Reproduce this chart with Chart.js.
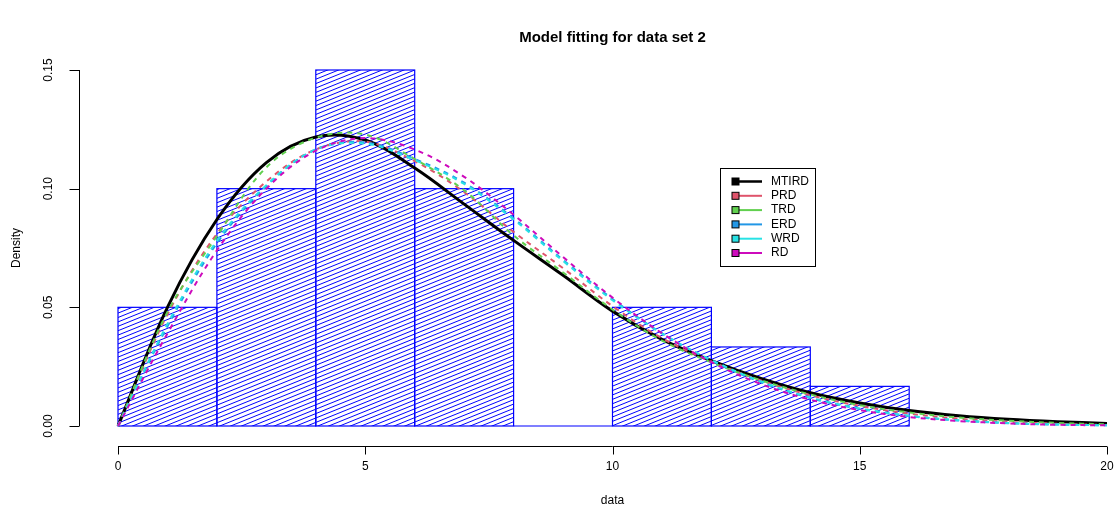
<!DOCTYPE html>
<html>
<head>
<meta charset="utf-8">
<script src="https://cdn.jsdelivr.net/npm/chart.js@4.4.1/dist/chart.umd.min.js"></script>
<style>
html,body{margin:0;padding:0;background:#ffffff;}
#wrap{width:1118px;height:510px;position:relative;}
</style>
</head>
<body>
<div id="wrap"><canvas id="c" width="1118" height="510"></canvas></div>
<script>
// ---------- data ----------
const xValues = [0,1,2,3,4,5,6,7,8,9,10,11,12,13,14,15,16,17,18,19,20];
const binCenters = [1,3,5,7,9,11,13,15];
const binDensity = [0.05,0.10,0.15,0.10,0.00,0.05,0.0333,0.0167];
const mtird = [0,0.050,0.087,0.1110,0.1218,0.1205,0.1087,0.0935,0.0782,0.0635,0.0484,0.0365,0.0275,0.0200,0.0140,0.0097,0.0065,0.0043,0.0028,0.0018,0.0011];
const prd   = [0,0.047,0.081,0.103,0.1165,0.1198,0.1116,0.0985,0.0818,0.0665,0.0505,0.0370,0.0272,0.0192,0.0130,0.0085,0.0052,0.0031,0.0017,0.0009,0.0004];
const trd   = [0,0.048,0.080,0.109,0.1215,0.1228,0.1125,0.0993,0.0803,0.0647,0.0491,0.0360,0.0268,0.0193,0.0133,0.0088,0.0057,0.0036,0.0022,0.0013,0.0007];
const erd   = [0,0.042,0.077,0.101,0.1165,0.1195,0.1125,0.1025,0.0875,0.0700,0.0535,0.0390,0.0275,0.0185,0.0118,0.0072,0.0042,0.0023,0.0012,0.0006,0.0003];
const wrd   = [0,0.043,0.078,0.1015,0.1165,0.1190,0.1120,0.1020,0.0870,0.0695,0.0530,0.0390,0.0278,0.0188,0.0120,0.0074,0.0043,0.0024,0.0013,0.0006,0.0003];
const rd    = [0,0.039,0.074,0.100,0.1160,0.1213,0.1165,0.1050,0.0890,0.0712,0.0541,0.0391,0.0269,0.0177,0.0111,0.0067,0.0038,0.0021,0.0011,0.0005,0.0003];
const seriesNames  = ['MTIRD','PRD','TRD','ERD','WRD','RD'];
const seriesColors = ['#000000','#DF536B','#61D04F','#2297E6','#28E2E5','#CD0BBC'];
const seriesValues = [mtird, prd, trd, erd, wrd, rd];
const xTicks = [0,5,10,15,20];
const xTickLabels = ['0','5','10','15','20'];
const yTicks = [0,0.05,0.10,0.15];
const yTickLabels = ['0.00','0.05','0.10','0.15'];
const titleText = 'Model fitting for data set 2';
const xTitle = 'data';
const yTitle = 'Density';

// ---------- styling ----------
const FONT = '"Liberation Sans", Arial, Helvetica, sans-serif';
const HIST_BLUE = '#0000FF';

const histData = binCenters.map((c,i)=>({x:c, y:binDensity[i]}));

const datasets = [{
  type:'bar', label:'hist', data:histData,
  backgroundColor:'rgba(0,0,0,0)', borderWidth:0,
  barPercentage:1, categoryPercentage:1, order:10
}];
seriesValues.forEach((vals,i)=>{
  datasets.push({
    type:'line', label:seriesNames[i],
    data:xValues.map((x,j)=>({x:x, y:vals[j]})),
    borderColor:seriesColors[i],
    borderWidth: i===0 ? 3 : 2,
    borderDash: i===0 ? [] : [5,5],
    pointRadius:0, tension:0.35, fill:false,
    clip:false, order: 6 - i
  });
});

const histPlugin = {
  id:'hatchHist',
  afterDatasetDraw(chart, args){
    if (args.index !== 0) return;
    const ctx = chart.ctx;
    const meta = chart.getDatasetMeta(0);
    const t = Math.tan(22*Math.PI/180);
    const s = 4.4;
    meta.data.forEach(el=>{
      const p = el.getProps(['x','y','base','width'], true);
      const x0 = p.x - p.width/2, x1 = p.x + p.width/2;
      const yT = Math.min(p.y,p.base), yB = Math.max(p.y,p.base);
      if (yB - yT > 0.5){
        ctx.save();
        ctx.beginPath(); ctx.rect(x0, yT, x1-x0, yB-yT); ctx.clip();
        ctx.strokeStyle = HIST_BLUE; ctx.lineWidth = 1;
        const cMin = yT + t*x0, cMax = yB + t*x1;
        ctx.beginPath();
        for (let k=Math.floor(cMin/s); k<=Math.ceil(cMax/s); k++){
          const c = k*s;
          ctx.moveTo(x0, c - t*x0);
          ctx.lineTo(x1, c - t*x1);
        }
        ctx.stroke();
        ctx.restore();
      }
      ctx.save();
      ctx.strokeStyle = HIST_BLUE; ctx.lineWidth = 1.2;
      ctx.strokeRect(x0, yT, x1-x0, yB-yT);
      ctx.restore();
    });
  }
};

const decoPlugin = {
  id:'rDeco',
  afterDraw(chart){
    const ctx = chart.ctx;
    const xs = chart.scales.x, ys = chart.scales.y;
    ctx.save();
    ctx.strokeStyle = '#000'; ctx.fillStyle = '#000'; ctx.lineWidth = 1;
    // x axis
    const axY = 446.5;
    ctx.beginPath();
    ctx.moveTo(xs.getPixelForValue(xTicks[0]), axY);
    ctx.lineTo(xs.getPixelForValue(xTicks[xTicks.length-1]), axY);
    xTicks.forEach(v=>{ const px=Math.round(xs.getPixelForValue(v))+0.5; ctx.moveTo(px, axY); ctx.lineTo(px, axY+8); });
    ctx.stroke();
    ctx.font = '12px ' + FONT;
    ctx.textAlign = 'center'; ctx.textBaseline = 'middle';
    xTicks.forEach((v,i)=>{ ctx.fillText(xTickLabels[i], xs.getPixelForValue(v), 467); });
    // y axis
    const axX = 79.5;
    ctx.beginPath();
    ctx.moveTo(axX, ys.getPixelForValue(yTicks[0]));
    ctx.lineTo(axX, ys.getPixelForValue(yTicks[yTicks.length-1]));
    yTicks.forEach(v=>{ const py=Math.round(ys.getPixelForValue(v))+0.5; ctx.moveTo(axX, py); ctx.lineTo(axX-10, py); });
    ctx.stroke();
    yTicks.forEach((v,i)=>{
      ctx.save();
      ctx.translate(49, ys.getPixelForValue(v));
      ctx.rotate(-Math.PI/2);
      ctx.fillText(yTickLabels[i], 0, 0);
      ctx.restore();
    });
    // axis titles
    ctx.fillText(xTitle, (chart.chartArea.left+chart.chartArea.right)/2, 501);
    ctx.save();
    ctx.translate(17, (chart.chartArea.top+chart.chartArea.bottom)/2);
    ctx.rotate(-Math.PI/2);
    ctx.fillText(yTitle, 0, 0);
    ctx.restore();
    // main title
    ctx.font = 'bold 15px ' + FONT;
    ctx.fillText(titleText, (chart.chartArea.left+chart.chartArea.right)/2, 38);
    // legend
    const lx0 = 720.5, ly0 = 168.5, lw = 95, lh = 98;
    ctx.fillStyle = '#fff';
    ctx.fillRect(lx0, ly0, lw, lh);
    ctx.strokeStyle = '#000'; ctx.lineWidth = 1;
    ctx.strokeRect(lx0, ly0, lw, lh);
    ctx.font = '12px ' + FONT;
    ctx.textAlign = 'left';
    seriesNames.forEach((name,i)=>{
      const yy = 181.5 + i*14.3;
      ctx.strokeStyle = seriesColors[i];
      ctx.lineWidth = i===0 ? 2.5 : 2;
      ctx.beginPath(); ctx.moveTo(736, yy); ctx.lineTo(762, yy); ctx.stroke();
      ctx.fillStyle = seriesColors[i];
      ctx.fillRect(732, yy-3.5, 7, 7);
      ctx.strokeStyle = '#000'; ctx.lineWidth = 1;
      ctx.strokeRect(732, yy-3.5, 7, 7);
      ctx.fillStyle = '#000';
      ctx.fillText(name, 771, yy);
    });
    ctx.restore();
  }
};

new Chart(document.getElementById('c'), {
  type:'bar',
  data:{ datasets },
  options:{
    responsive:false, animation:false, devicePixelRatio:1,
    layout:{ padding:{ left:118, right:11, top:70, bottom:84 } },
    plugins:{ legend:{display:false}, title:{display:false}, tooltip:{enabled:false} },
    scales:{
      x:{ type:'linear', min:0, max:20, display:false, offset:false },
      y:{ type:'linear', min:0, max:0.15, display:false }
    }
  },
  plugins:[histPlugin, decoPlugin]
});
</script>
</body>
</html>
